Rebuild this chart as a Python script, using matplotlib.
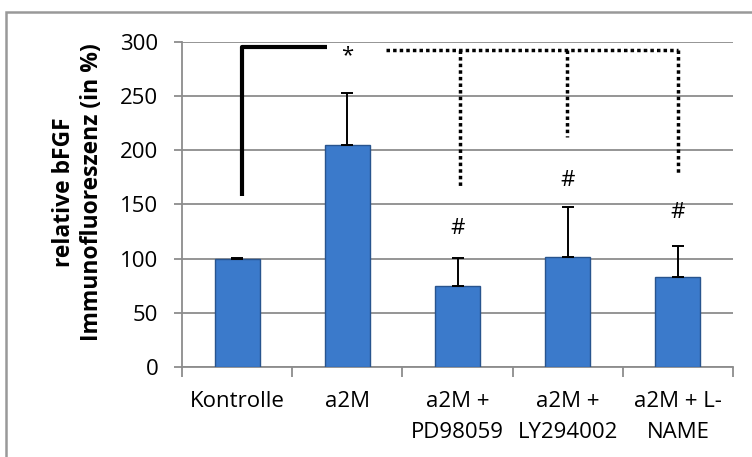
# bFGF immunofluorescence bar chart (Excel style)
import matplotlib
matplotlib.use('Agg')
import matplotlib.pyplot as plt
from matplotlib.patches import Rectangle

categories = ['Kontrolle', 'a2M', 'a2M +\nPD98059', 'a2M +\nLY294002', 'a2M + L-\nNAME']
values = [100, 204.5, 75, 101.5, 83]
errors = [1, 48.5, 26, 46.5, 29]

# significance marks: (x, y, text)
marks = [(1, 287, '*'), (2, 128, '#'), (3, 172, '#'), (4, 143, '#')]

plt.rcParams['font.family'] = ['Open Sans', 'DejaVu Sans']

fig = plt.figure(figsize=(7.52, 4.57), dpi=100)
ax = fig.add_axes([182 / 752, 1 - 367 / 457, 551 / 752, 325 / 457])

x = list(range(len(categories)))
ax.bar(x, values, width=0.41, color='#3b7acb', edgecolor='#28548e', linewidth=1, zorder=3)
ax.errorbar(x, values, yerr=[[0] * len(errors), errors], fmt='none', ecolor='black',
            elinewidth=1.4, capsize=4.5, capthick=1.4, zorder=4)

# solid bracket Kontrolle vs a2M
ax.plot([0.04, 0.04, 0.815], [158, 295, 295], color='black', lw=3, solid_capstyle='butt', zorder=5)
# dotted bracket a2M vs inhibitors
ax.plot([1.35, 4.0], [293, 293], color='black', lw=2.5, ls=(0, (1, 0.9)), zorder=5)
ax.plot([2.02, 2.02], [293, 166], color='black', lw=2.5, ls=(0, (1, 0.9)), zorder=5)
ax.plot([2.99, 2.99], [293, 212], color='black', lw=2.5, ls=(0, (1, 0.9)), zorder=5)
ax.plot([4.0, 4.0], [293, 179], color='black', lw=2.5, ls=(0, (1, 0.9)), zorder=5)

for mx, my, mt in marks:
    ax.text(mx, my, mt, ha='center', va='center', fontsize=16, zorder=6)

ax.set_xlim(-0.5, 4.5)
ax.set_ylim(0, 300)
ax.set_yticks(range(0, 301, 50))
ax.set_xticks(x)
ax.set_xticklabels(categories, fontsize=16, linespacing=1.65)
ax.set_xticks([i + 0.5 for i in range(-1, 5)], minor=True)
ax.tick_params(axis='x', which='major', length=0, pad=17)
ax.tick_params(axis='x', which='minor', length=7, color='#8c8c8c', width=1.3)
ax.tick_params(axis='y', length=6, color='#8c8c8c', width=1.3, labelsize=16, pad=11)
ax.yaxis.grid(True, color='#8c8c8c', lw=1.3, zorder=0)
ax.set_axisbelow(True)
for s in ['top', 'right']:
    ax.spines[s].set_visible(False)
for s in ['left', 'bottom']:
    ax.spines[s].set_color('#8c8c8c')
    ax.spines[s].set_linewidth(1.3)

fig.text(78 / 752, 1 - 192 / 457, 'relative bFGF\nImmunofluoreszenz (in %)', rotation=90,
         ha='center', va='center', fontsize=16.5, fontweight='bold', linespacing=1.2)

# outer chart frame
fig.patches.append(Rectangle((6 / 752, -0.05), 1, 1 - 12 / 457 + 0.05, transform=fig.transFigure,
                             fill=False, edgecolor='#999999', lw=1.8))

fig.savefig('out.png', dpi=100)
